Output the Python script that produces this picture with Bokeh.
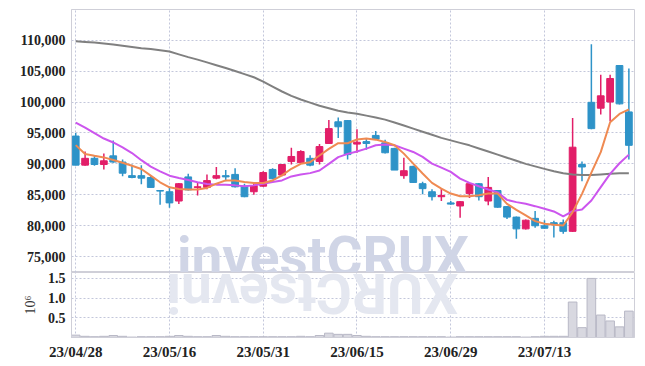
from bokeh.plotting import figure
from bokeh.layouts import column
from bokeh.models import ColumnDataSource, Range1d, FixedTicker, NumeralTickFormatter, Label
from bokeh.embed import file_html
from bokeh.resources import INLINE
import math

dates = ["23/04/28", "23/05/02", "23/05/03", "23/05/04", "23/05/08", "23/05/09", "23/05/10", "23/05/11",
         "23/05/12", "23/05/15", "23/05/16", "23/05/17", "23/05/18", "23/05/19", "23/05/22", "23/05/23",
         "23/05/24", "23/05/25", "23/05/26", "23/05/30", "23/05/31", "23/06/01", "23/06/02", "23/06/05",
         "23/06/07", "23/06/08", "23/06/09", "23/06/12", "23/06/13", "23/06/14", "23/06/15", "23/06/16",
         "23/06/19", "23/06/20", "23/06/21", "23/06/22", "23/06/23", "23/06/26", "23/06/27", "23/06/28",
         "23/06/29", "23/06/30", "23/07/03", "23/07/04", "23/07/05", "23/07/06", "23/07/07", "23/07/10",
         "23/07/11", "23/07/12", "23/07/13", "23/07/14", "23/07/17", "23/07/18", "23/07/19", "23/07/20",
         "23/07/21", "23/07/24", "23/07/25", "23/07/26"]

opens = [94500, 89800, 90900, 89900, 91300, 90300, 88100, 88100, 87800, 85700,
         85500, 84000, 87900, 86200, 86200, 87700, 88100, 88300, 86400, 85500,
         86400, 89100, 88200, 90400, 90200, 90900, 90400, 93300, 96800, 97000,
         93200, 93600, 94600, 93400, 92500, 88100, 89600, 86800, 85500, 84700,
         83700, 83200, 85200, 86800, 84000, 85700, 83100, 81400, 79500, 81200,
         80000, 80500, 80500, 79100, 89900, 99950, 99000, 100000, 105900, 98400]
highs = [95000, 92000, 91300, 91700, 93800, 90700, 89900, 89800, 88100, 85800,
         86300, 86900, 88400, 87000, 88300, 89500, 89000, 89300, 86800, 86800,
         88800, 89300, 90000, 92600, 92200, 91400, 93200, 97100, 97500, 97100,
         95600, 94200, 95300, 93900, 92600, 91000, 89700, 87100, 85900, 86000,
         84000, 84000, 86900, 86900, 87900, 85800, 83200, 81500, 81000, 82400,
         80900, 80800, 81000, 97400, 90400, 109350, 104400, 104400, 106000, 105400]
lows = [89800, 89700, 89700, 89100, 90200, 88000, 87700, 86700, 86200, 83400,
        82900, 83500, 85700, 84900, 85900, 87500, 87200, 86200, 84600, 85000,
        86300, 87500, 88000, 89900, 90200, 89600, 89900, 93300, 94200, 90700,
        91800, 92300, 93900, 91700, 89000, 87600, 86900, 85100, 84100, 84000,
        83400, 81300, 84500, 84100, 83300, 82900, 81100, 77900, 79400, 79700,
        79500, 78100, 78700, 79000, 87200, 95600, 98000, 96900, 99600, 90700]
closes = [89800, 90900, 89900, 90500, 90300, 88500, 87800, 87700, 86200, 85600,
          83700, 86800, 85800, 86300, 87300, 88100, 87900, 86300, 84700, 86500,
          88600, 87600, 89900, 91200, 92000, 89800, 92800, 95700, 96000, 91500,
          93500, 93300, 94000, 91800, 89000, 88900, 87000, 86000, 84700, 84900,
          83500, 83900, 86800, 84700, 86200, 83000, 81400, 79500, 80900, 80000,
          79600, 80200, 79100, 92700, 89500, 95700, 101000, 103800, 99700, 93000]

ma_short = [93030, 91600, 91300, 91050, 90620, 90190, 89710, 89170, 88100, 87030,
            86220, 85960, 85850, 85850, 86120, 86800, 87330, 87330, 87070, 86900,
            86900, 87330, 88140, 89210, 90010, 90280, 91350, 92430, 93340, 93340,
            93950, 94090, 93920, 93550, 93010, 91660, 90050, 88440, 86930, 86010,
            85210, 84780, 84780, 84940, 85210, 85200, 83550, 82580, 81670, 80750,
            80320, 80160, 80050, 82200, 85160, 88600, 91900, 96720, 98070, 98820]
ma_mid = [96680, 95870, 94960, 94100, 93460, 92660, 91750, 90600, 89550, 88800,
          88100, 87730, 87400, 87030, 86760, 86650, 86640, 86530, 86370, 86530,
          86800, 87070, 87330, 87980, 88300, 88510, 88940, 90010, 91090, 91620,
          92000, 92470, 93010, 93120, 93010, 92470, 91930, 91130, 90050, 89410,
          88710, 87630, 86930, 86390, 85860, 85400, 84190, 83820, 83550, 83170,
          82740, 82310, 81510, 82370, 82630, 84090, 86240, 88390, 90110, 91500]
ma_long = [109800, 109700, 109600, 109450, 109300, 109100, 108900, 108700, 108550, 108350,
           108150, 107700, 107250, 106850, 106400, 105950, 105500, 105000, 104500, 104000,
           103300, 102500, 101700, 101000, 100400, 99900, 99400, 99000, 98600, 98300,
           98100, 97800, 97500, 97150, 96700, 96200, 95700, 95200, 94700, 94200,
           93800, 93400, 93000, 92500, 92000, 91500, 91000, 90500, 90000, 89600,
           89200, 88800, 88500, 88300, 88200, 88200, 88300, 88400, 88500, 88500]

volume_m = [0.06, 0.03, 0.02, 0.03, 0.05, 0.03, 0.01, 0.02, 0.02, 0.02,
            0.03, 0.05, 0.03, 0.02, 0.02, 0.05, 0.03, 0.02, 0.02, 0.02,
            0.02, 0.02, 0.02, 0.02, 0.03, 0.02, 0.05, 0.11, 0.08, 0.08,
            0.05, 0.03, 0.02, 0.02, 0.02, 0.02, 0.02, 0.02, 0.02, 0.02,
            0.01, 0.02, 0.02, 0.02, 0.02, 0.02, 0.02, 0.02, 0.01, 0.02,
            0.03, 0.03, 0.03, 0.90, 0.25, 1.50, 0.57, 0.42, 0.27, 0.67]

price_ticks = [75000, 80000, 85000, 90000, 95000, 100000, 105000, 110000]
date_tick_idx = [0, 10, 20, 30, 40, 50]
vol_ticks = [500000, 1000000, 1500000]
vol_tick_labels = ["0.5", "1.0", "1.5"]
watermark = "investCRUX"

UP = "#e21e68"
DOWN = "#2e93c8"
FONT = "Liberation Sans Narrow"
GRID = "#c3c7db"
EDGE = "#cfcfd8"

xs = list(range(len(dates)))
colors = [UP if c >= o else DOWN for o, c in zip(opens, closes)]
src = ColumnDataSource(dict(
    x=xs, o=opens, h=highs, l=lows, c=closes,
    top=[max(o, c) for o, c in zip(opens, closes)],
    bot=[min(o, c) for o, c in zip(opens, closes)],
    color=colors, vol=[v * 1e6 for v in volume_m],
    ma_s=ma_short, ma_m=ma_mid, ma_l=ma_long,
))

xr = Range1d(-0.45, 59.6)

p = figure(frame_width=563, frame_height=263, x_range=xr, y_range=Range1d(72450, 114950),
           output_backend="svg", toolbar_location=None,
           min_border_left=71, min_border_right=3, min_border_top=9, min_border_bottom=0)
p.xaxis.visible = False
p.outline_line_color = EDGE

q = figure(frame_width=563, frame_height=65, x_range=xr, y_range=Range1d(0, 1.65e6),
           output_backend="svg", toolbar_location=None,
           min_border_left=71, min_border_right=3, min_border_top=0, min_border_bottom=4)
q.outline_line_color = EDGE

for fig in (p, q):
    fig.xgrid.ticker = FixedTicker(ticks=date_tick_idx)
    fig.grid.grid_line_color = GRID
    fig.grid.grid_line_dash = "2 2"
    fig.grid.grid_line_width = 1
    for ax in fig.axis:
        ax.major_tick_line_color = None
        ax.minor_tick_line_color = None
        ax.major_tick_out = 0
        ax.major_tick_in = 0
        ax.minor_tick_out = 0
        ax.axis_line_color = EDGE
        ax.major_label_text_font = FONT
        ax.major_label_text_font_style = "bold"
        ax.major_label_text_color = "#222222"
        ax.major_label_standoff = 6

p.yaxis.major_label_text_font_size = "14px"
p.yaxis.ticker = FixedTicker(ticks=price_ticks)
p.yaxis.formatter = NumeralTickFormatter(format="0,0")
p.ygrid.ticker = FixedTicker(ticks=price_ticks)

q.yaxis.major_label_text_font_size = "14px"
q.yaxis.ticker = FixedTicker(ticks=vol_ticks)
q.ygrid.ticker = FixedTicker(ticks=vol_ticks)
q.yaxis.major_label_overrides = {t: s for t, s in zip(vol_ticks, vol_tick_labels)}
q.yaxis.axis_label = "10\u2076"
q.yaxis.axis_label_text_font = FONT
q.yaxis.axis_label_text_font_size = "14px"
q.yaxis.axis_label_text_font_style = "normal"
q.yaxis.axis_label_text_color = "#333333"
q.yaxis.axis_label_standoff = 7
q.xaxis.major_label_text_font_size = "15px"
q.xaxis.ticker = FixedTicker(ticks=date_tick_idx)
q.xaxis.major_label_overrides = {i: dates[i] for i in date_tick_idx}

wm = Label(x=10.8, y=75000, text=watermark, text_font="Roboto", text_font_size="55px",
           text_font_style="bold", text_color="#d0d5e6", text_baseline="alphabetic",
           text_align="left", level="underlay")
p.add_layout(wm)

# mirrored reflection of the watermark in the volume panel
wm_ref = Label(x=40.8, y=1.12e6, text=watermark[::-1], text_font="Roboto", text_font_size="55px",
               text_font_style="bold", text_color="#e4e7f0", text_baseline="alphabetic",
               text_align="left", angle=math.pi, level="underlay")
q.add_layout(wm_ref)

p.segment(x0="x", y0="l", x1="x", y1="h", line_color="color", line_width=1.5, source=src)
p.vbar(x="x", width=0.72, top="top", bottom="bot", fill_color="color", line_color="color",
       line_width=1, source=src)

p.line("x", "ma_l", line_color="#808080", line_width=2, source=src)
p.line("x", "ma_m", line_color="#cc55ee", line_width=2, source=src)
p.line("x", "ma_s", line_color="#ef8a52", line_width=2, source=src)

q.vbar(x="x", width=0.92, top="vol", bottom=0, fill_color="#d8d8e0", line_color="#b8b8c6",
       line_width=1, source=src)

layout = column(p, q, spacing=0)
open("out.html", "w").write(file_html(layout, INLINE))
